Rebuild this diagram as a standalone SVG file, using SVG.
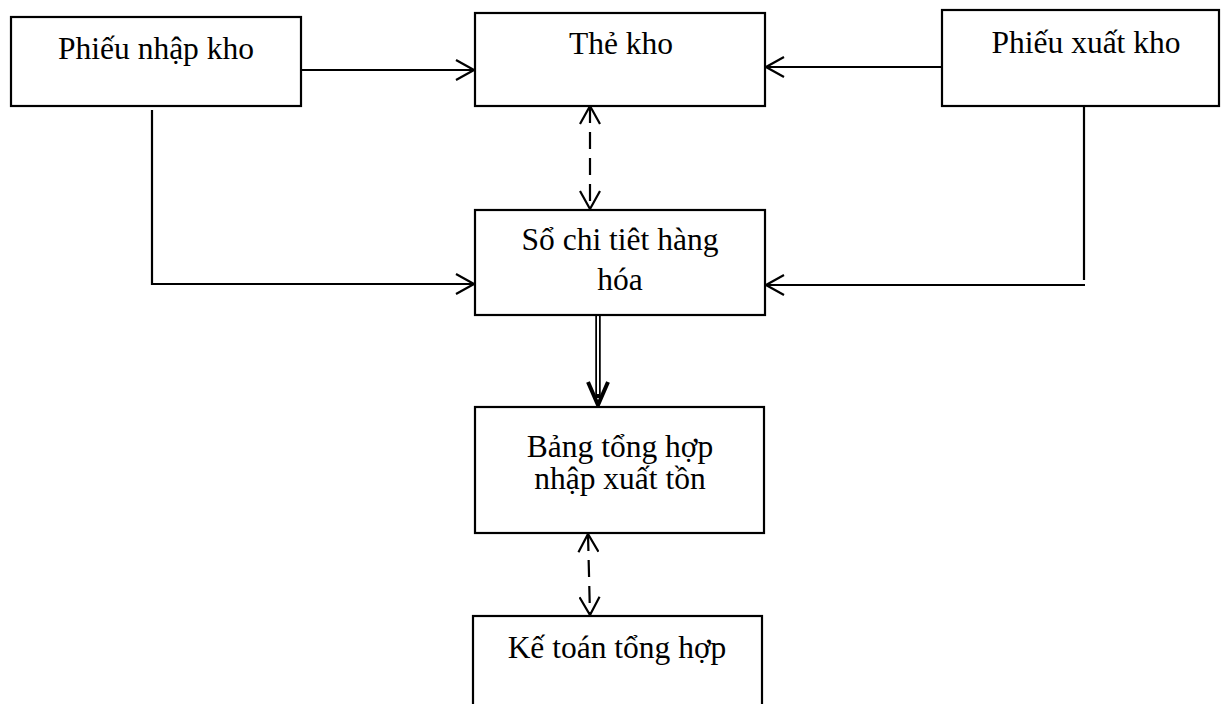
<svg xmlns="http://www.w3.org/2000/svg" width="1221" height="704" viewBox="0 0 1221 704">
  <style>
    .box { fill: #ffffff; stroke: #000000; stroke-width: 2.2; }
    .lbl { font-family: "Liberation Serif", "Times New Roman", serif; font-size: 31.5px; fill: #000000; text-anchor: middle; }
    .ln { fill: none; stroke: #000000; stroke-width: 2.2; }
    .dash { stroke-dasharray: 17 9; }
  </style>
  <defs>
    <marker id="open" viewBox="0 0 20 22" refX="19" refY="11" markerWidth="20" markerHeight="22" markerUnits="userSpaceOnUse" orient="auto-start-reverse">
      <path d="M1,1 L19,11 L1,21" fill="none" stroke="#000" stroke-width="2.2"/>
    </marker>
  </defs>

  <g id="connectors">
    <!-- Phiếu nhập kho -> Thẻ kho -->
    <line class="ln" x1="299" y1="70" x2="474" y2="70" marker-end="url(#open)"/>
    <!-- Phiếu xuất kho -> Thẻ kho -->
    <line class="ln" x1="942" y1="67" x2="766" y2="67" marker-end="url(#open)"/>
    <!-- Thẻ kho <-> Sổ chi tiết -->
    <line class="ln dash" x1="590" y1="106" x2="590" y2="209" marker-start="url(#open)" marker-end="url(#open)"/>
    <!-- Phiếu nhập kho -> Sổ chi tiết -->
    <polyline class="ln" points="152,110 152,284 474,284" marker-end="url(#open)"/>
    <!-- Phiếu xuất kho -> Sổ chi tiết -->
    <line class="ln" x1="1084" y1="107" x2="1084" y2="280"/>
    <line class="ln" x1="1085" y1="285" x2="766" y2="285" marker-end="url(#open)"/>
    <!-- Sổ chi tiết => Bảng tổng hợp (double line) -->
    <line x1="598" y1="316" x2="598" y2="398" stroke="#000" stroke-width="5.5"/>
    <line x1="598" y1="316" x2="598" y2="394" stroke="#fff" stroke-width="2"/>
    <path d="M588,382 L598,405 L608,382" fill="none" stroke="#000" stroke-width="4"/>
    <!-- Bảng tổng hợp <-> Kế toán tổng hợp -->
    <line class="ln dash" x1="588" y1="534" x2="590" y2="615" marker-start="url(#open)" marker-end="url(#open)"/>
  </g>

  <g id="phieu-nhap-kho">
    <rect class="box" x="11" y="17" width="290" height="89"/>
    <text class="lbl" x="156" y="59">Phiếu nhập kho</text>
  </g>

  <g id="the-kho">
    <rect class="box" x="475" y="13" width="290" height="93"/>
    <text class="lbl" x="621" y="54">Thẻ kho</text>
  </g>

  <g id="phieu-xuat-kho">
    <rect class="box" x="942" y="10" width="277" height="96"/>
    <text class="lbl" x="1086" y="53">Phiếu xuất kho</text>
  </g>

  <g id="so-chi-tiet">
    <rect class="box" x="475" y="210" width="290" height="105"/>
    <text class="lbl" x="620" y="250">Sổ chi tiêt hàng</text>
    <text class="lbl" x="620" y="290">hóa</text>
  </g>

  <g id="bang-tong-hop">
    <rect class="box" x="475" y="407" width="289" height="126"/>
    <text class="lbl" x="620" y="457">Bảng tổng hợp</text>
    <text class="lbl" x="620" y="489">nhập xuất tồn</text>
  </g>

  <g id="ke-toan-tong-hop">
    <rect class="box" x="473" y="616" width="289" height="110"/>
    <text class="lbl" x="617" y="658">Kế toán tổng hợp</text>
  </g>
</svg>
